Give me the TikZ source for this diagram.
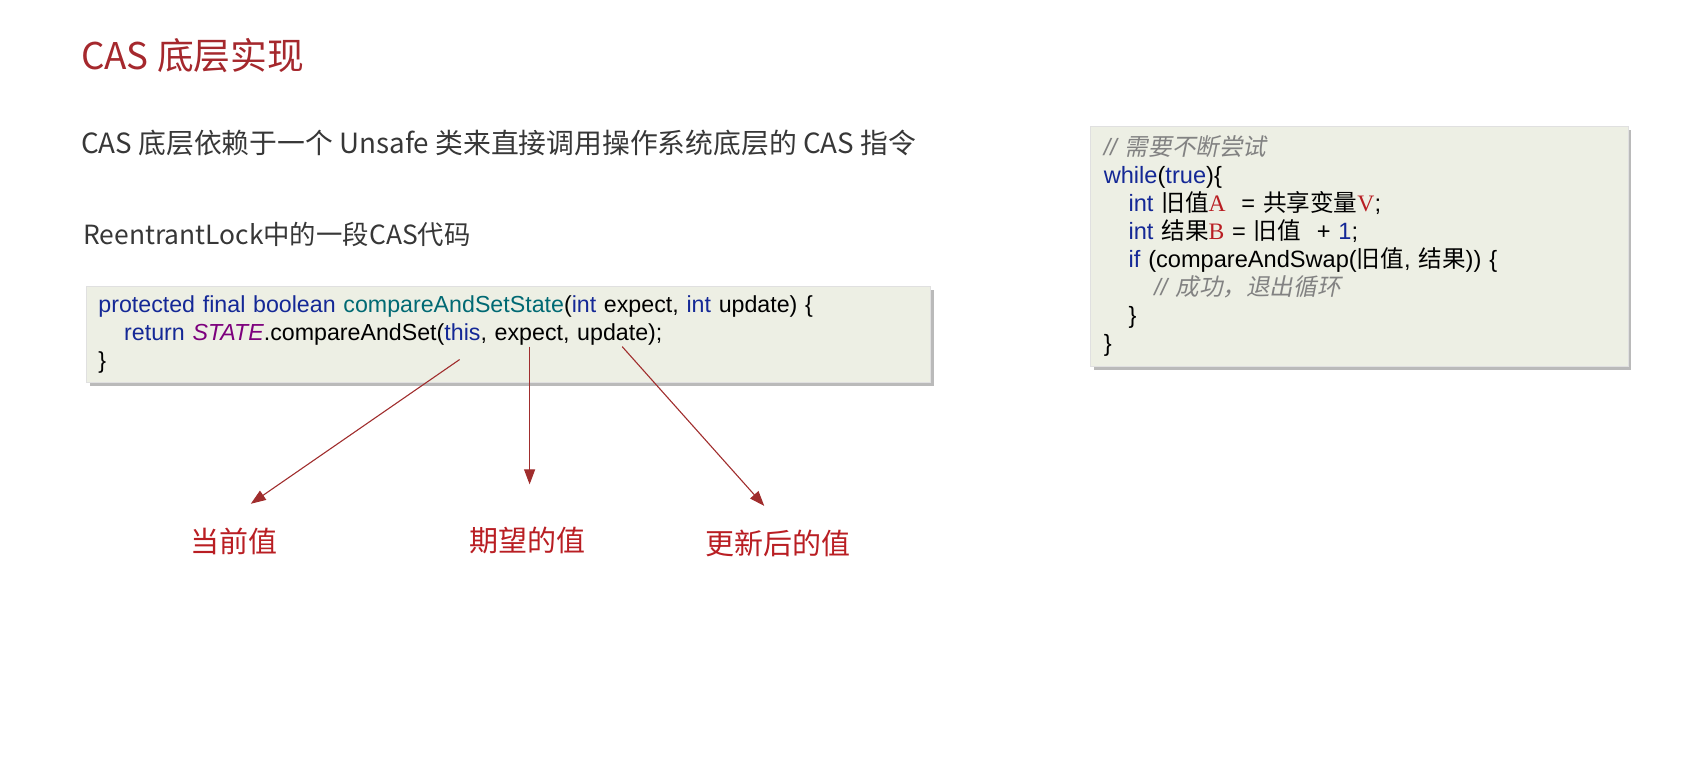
\documentclass[tikz,border=0pt]{standalone}
\usepackage{fontspec}
\setmainfont{Liberation Sans}
\newfontfamily\cjk{Noto Sans CJK SC}
\newfontfamily\cjkslant[FakeSlant=0.2]{Noto Sans CJK SC}
\newfontfamily\serifrm{Liberation Serif}
\usepackage{xcolor}
\usetikzlibrary{arrows.meta, shadows, positioning}

\definecolor{titlered}{RGB}{165,40,45}
\definecolor{labelred}{RGB}{185,30,35}
\definecolor{arrowred}{RGB}{160,45,45}
\definecolor{codebg}{RGB}{237,239,228}
\definecolor{kwblue}{RGB}{20,40,150}
\definecolor{fnteal}{RGB}{0,105,115}
\definecolor{cstpurple}{RGB}{125,0,125}
\definecolor{cmtgray}{RGB}{130,130,130}
\definecolor{txtgray}{RGB}{55,55,55}

\newcommand{\kw}[1]{\textcolor{kwblue}{#1}}
\newcommand{\fnname}[1]{\textcolor{fnteal}{#1}}
\newcommand{\cstname}[1]{\textcolor{cstpurple}{\itshape #1}}
\newcommand{\zh}[1]{{\cjk #1}}
\newcommand{\rv}[1]{\textcolor{labelred}{\serifrm #1}}
\newcommand{\cmt}[1]{\textcolor{cmtgray}{\itshape //~{\cjkslant #1}}}
\newcommand{\numlit}[1]{\textcolor{kwblue}{#1}}

\begin{document}
\begin{tikzpicture}[
    x=0.5382pt, y=-0.5382pt,
    heading/.style={inner sep=0pt, anchor=west, text=txtgray, font=\cjk\fontsize{13.9}{17}\selectfont},
    title/.style={inner sep=0pt, anchor=west, text=titlered, font=\cjk\fontsize{18.4}{21}\selectfont},
    valuelabel/.style={inner sep=0pt, text=labelred, font=\cjk\fontsize{14.5}{17}\selectfont},
    codebox/.style={draw=black!12, fill=codebg, anchor=north west, align=left,
        drop shadow={shadow xshift=1.6pt, shadow yshift=-1.8pt, opacity=0.45, fill=black!60},
        font=\fontsize{11.6}{14}\selectfont},
    arrow/.style={-{Triangle[length=7.5pt,width=5.5pt]}, draw=arrowred, line width=0.55pt}
]
\useasboundingbox (0,0) rectangle (1570,723);

% Headings
\node[title] (title) at (75,52) {CAS 底层实现};
\node[heading] (intro) at (75,133) {CAS 底层依赖于一个 Unsafe 类来直接调用操作系统底层的 CAS 指令};
\node[heading, font=\cjk\fontsize{13.2}{16}\selectfont] (subtitle) at (77,218) {ReentrantLock中的一段CAS代码};

% ReentrantLock code
\node[codebox, minimum width=421.9pt, minimum height=47.9pt, inner xsep=5.9pt, text width=410pt] (lockcode) at (80,266) {%
\kw{protected final boolean} \fnname{compareAndSetState}(\kw{int} expect, \kw{int} update) \{\\
\hspace*{12.9pt}\kw{return} \cstname{STATE}.compareAndSet(\kw{this}, expect, update);\\
\}};

% CAS loop
\node[codebox, minimum width=268.6pt, minimum height=120pt, inner xsep=6.5pt, text width=255.6pt, font=\fontsize{11.8}{14}\selectfont] (loopcode) at (1013,117) {%
\cmt{需要不断尝试}\\
\kw{while}(\kw{true})\{\\
\hspace*{12.4pt}\kw{int} \zh{旧值}\rv{A}\ \ = \zh{共享变量}\rv{V};\\
\hspace*{12.4pt}\kw{int} \zh{结果}\rv{B} = \zh{旧值}\ \ + \numlit{1};\\
\hspace*{12.4pt}\kw{if} (compareAndSwap(\zh{旧值}, \zh{结果})) \{\\
\hspace*{25.3pt}\cmt{成功，退出循环}\\
\hspace*{12.4pt}\}\\
\}};

% Labels
\node[valuelabel] (current) at (217,503) {当前值};
\node[valuelabel] (expected) at (490,502) {期望的值};
\node[valuelabel] (updated) at (723,505) {更新后的值};

% Arrow ends
\coordinate (thisarg) at (427,334);
\coordinate (expectarg) at (492,322);
\coordinate (updatearg) at (578,322);
\coordinate (currenttip) at (233,468);
\coordinate (expectedtip) at (492,450);
\coordinate (updatedtip) at (710,470);

% Arrows
\draw[arrow] (thisarg) -- (currenttip);
\draw[arrow] (expectarg) -- (expectedtip);
\draw[arrow] (updatearg) -- (updatedtip);

\end{tikzpicture}
\end{document}
